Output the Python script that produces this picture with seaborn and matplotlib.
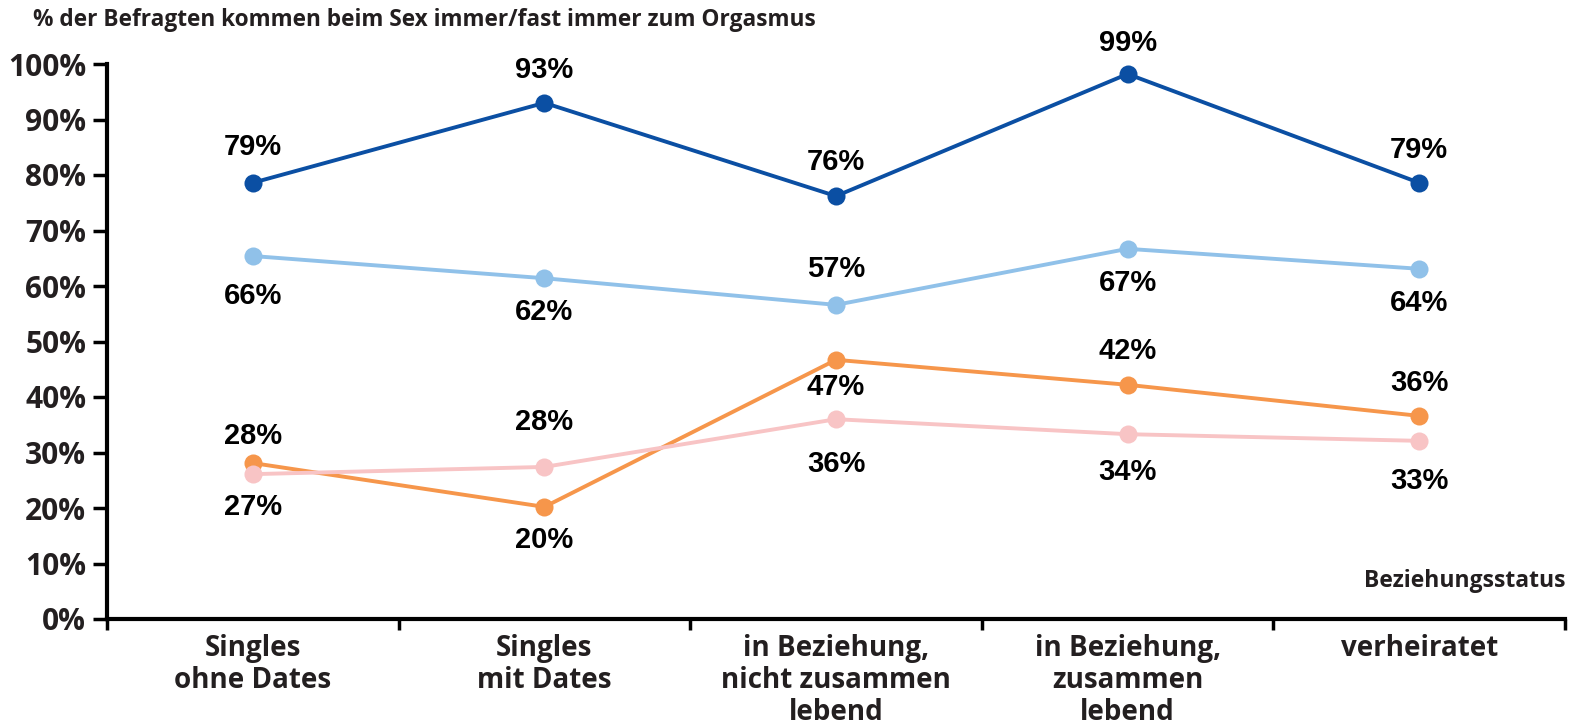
import matplotlib
matplotlib.use("Agg")
import matplotlib.pyplot as plt
import pandas as pd
import seaborn as sns

# Data
categories = [
    "Singles\nohne Dates",
    "Singles\nmit Dates",
    "in Beziehung,\nnicht zusammen\nlebend",
    "in Beziehung,\nzusammen\nlebend",
    "verheiratet",
]
series_names = ["Reihe 1", "Reihe 2", "Reihe 3", "Reihe 4"]
values_dark_blue = [78.6, 93.0, 76.2, 98.2, 78.6]
values_light_blue = [65.4, 61.4, 56.6, 66.7, 63.1]
values_orange = [28.1, 20.2, 46.7, 42.2, 36.6]
values_pink = [26.1, 27.4, 36.0, 33.3, 32.1]
labels_dark_blue = ["79%", "93%", "76%", "99%", "79%"]
labels_light_blue = ["66%", "62%", "57%", "67%", "64%"]
labels_orange = ["28%", "20%", "47%", "42%", "36%"]
labels_pink = ["27%", "28%", "36%", "34%", "33%"]
y_ticks = [0, 10, 20, 30, 40, 50, 60, 70, 80, 90, 100]
title = "% der Befragten kommen beim Sex immer/fast immer zum Orgasmus"
x_title = "Beziehungsstatus"

all_values = [values_dark_blue, values_light_blue, values_orange, values_pink]
all_labels = [labels_dark_blue, labels_light_blue, labels_orange, labels_pink]

rows = []
for name, vals, labs in zip(series_names, all_values, all_labels):
    for i, (v, lab) in enumerate(zip(vals, labs)):
        rows.append({"series": name, "pos": i, "value": v, "label": lab})
df = pd.DataFrame(rows)

palette = dict(zip(series_names, ["#0b4fa3", "#90c1e9", "#f6964b", "#f8c4c5"]))

# label offsets in pixels (positive = above the point)
label_offsets = {
    "Reihe 1": [36, 33, 34, 31, 33],
    "Reihe 2": [-40, -34, 36, -34, -34],
    "Reihe 3": [27, -33, -27, 34, 33],
    "Reihe 4": [-33, 45, -45, -38, -40],
}

sns.set_style("white")
tick_font = ["Open Sans", "DejaVu Sans"]
label_font = ["Liberation Sans", "DejaVu Sans"]
plt.rcParams["font.family"] = tick_font

fig = plt.figure(figsize=(15.79, 7.28), dpi=100)
ax = fig.add_axes([107 / 1579, 109 / 728, 1458 / 1579, 555 / 728])

sns.lineplot(
    data=df,
    x="pos",
    y="value",
    hue="series",
    palette=palette,
    marker="o",
    markersize=13,
    markeredgewidth=0,
    linewidth=2.8,
    legend=False,
    ax=ax,
)
for line in ax.lines:
    line.set_clip_on(False)

for _, row in df.iterrows():
    off = label_offsets[row["series"]][row["pos"]]
    ax.annotate(
        row["label"],
        (row["pos"], row["value"]),
        xytext=(0, off),
        textcoords="offset pixels",
        ha="center",
        va="center",
        fontsize=21,
        fontweight="bold",
        family=label_font,
        color="black",
    )

ax.set_xlim(-0.5, 4.5)
ax.set_ylim(0, 100)
ax.set_yticks(y_ticks)
ax.set_yticklabels([f"{t}%" for t in y_ticks], fontsize=21.5, fontweight="bold",
                   color="#231f20")
ax.set_xticks([-0.5, 0.5, 1.5, 2.5, 3.5, 4.5])
ax.set_xticklabels([])
ax.set_xticks(range(len(categories)), minor=True)
ax.set_xticklabels(categories, minor=True, fontsize=20, fontweight="bold",
                   color="#231f20", linespacing=1.12)
ax.tick_params(axis="x", which="major", direction="out", length=8, width=2.5,
               color="black", bottom=True)
ax.tick_params(axis="x", which="minor", length=0, pad=11)
ax.tick_params(axis="y", direction="out", length=10, width=2.5, pad=5,
               color="black", left=True)
ax.set_xlabel("")
ax.set_ylabel("")

for side in ["top", "right"]:
    ax.spines[side].set_visible(False)
for side in ["left", "bottom"]:
    ax.spines[side].set_linewidth(3)
    ax.spines[side].set_color("black")

ax.text(1.0, 0.068, x_title, transform=ax.transAxes, ha="right", va="center",
        fontsize=16.5, fontweight="bold", color="#231f20")
fig.text(33 / 1579, 1 - 20 / 728, title, ha="left", va="center",
         fontsize=16.3, fontweight="bold", color="#231f20")

fig.savefig("out.png", dpi=100)
